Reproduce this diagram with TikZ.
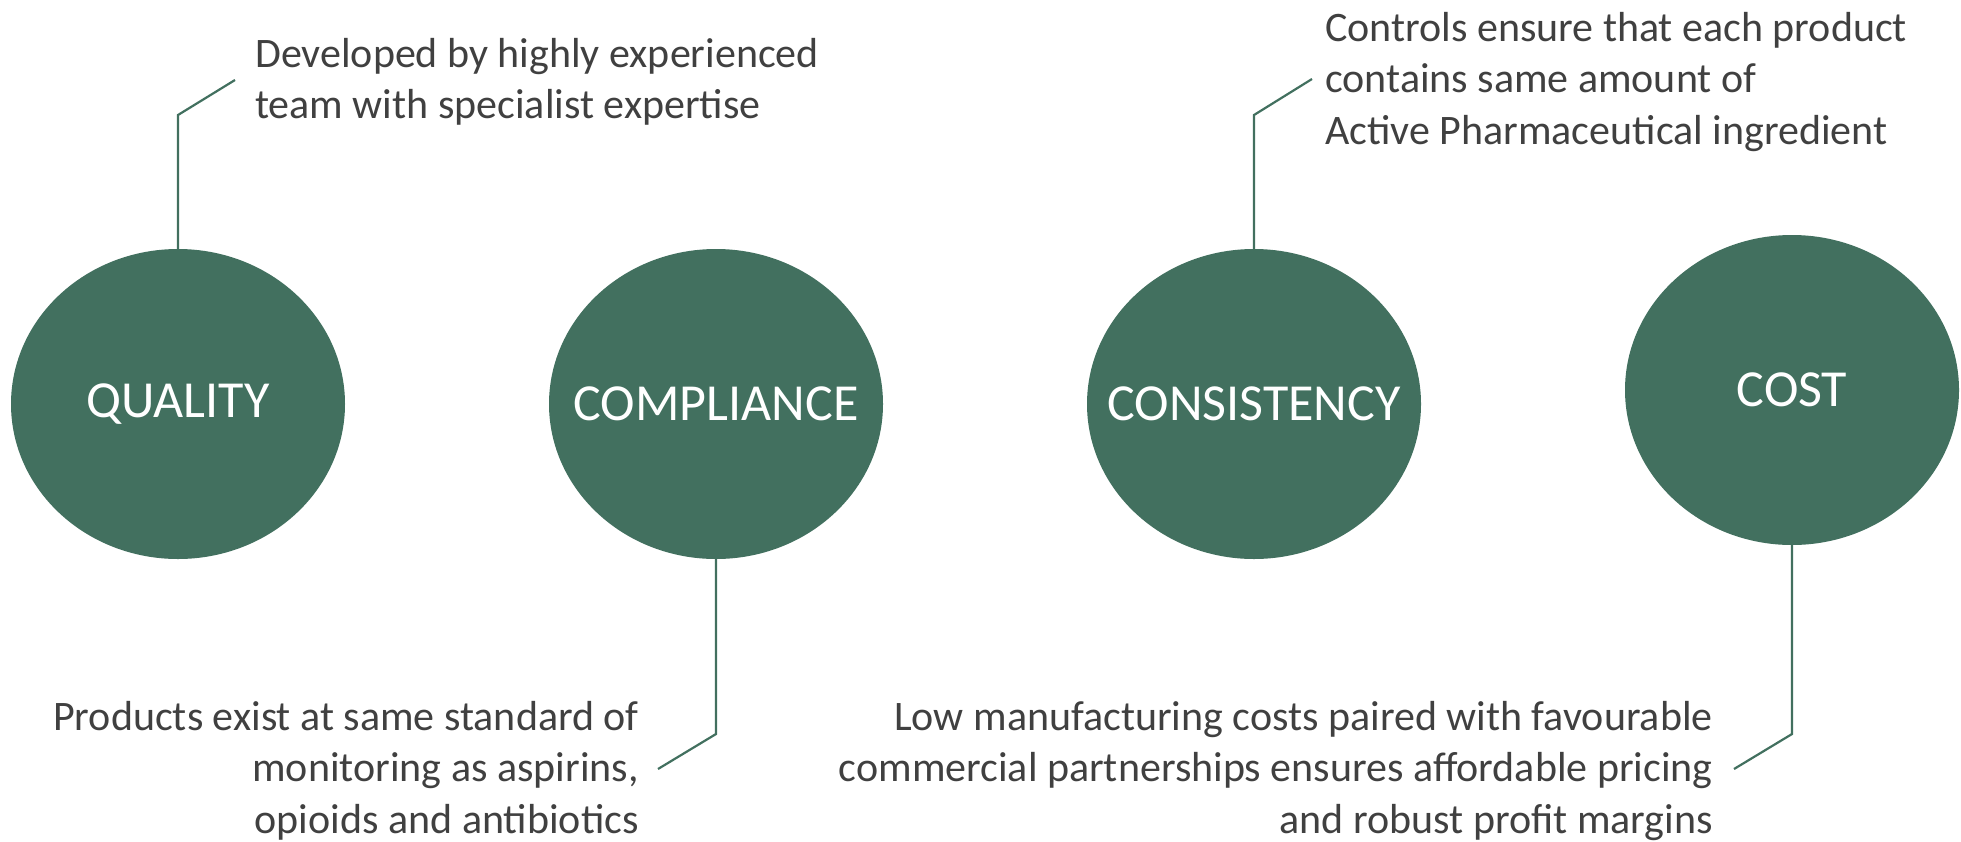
\documentclass[tikz,border=0pt]{standalone}
\usepackage{fontspec}
\setmainfont{Carlito}
\usetikzlibrary{shapes.geometric}
\definecolor{pgreen}{HTML}{42705F}
\definecolor{ptext}{HTML}{404040}
\tikzset{
  pillar/.style={ellipse, fill=pgreen, draw=none, inner sep=0pt,
    minimum width=334pt, minimum height=310pt,
    label={[text=white, font=\fontsize{52}{62}\selectfont]center:#1}},
  conn/.style={draw=pgreen, line width=2.2pt},
  note/.style={inner sep=0pt, text=ptext, font=\fontsize{42}{51.5}\selectfont},
}
\begin{document}
\begin{tikzpicture}[x=1pt,y=-1pt]
\useasboundingbox (0,0) rectangle (1961,841);
\node[pillar=QUALITY] (q) at (178,404) {};
\node[pillar=COMPLIANCE] (cp) at (716,404) {};
\node[pillar=CONSISTENCY] (cs) at (1254,404) {};
\node[pillar=COST] (ct) at (1792,390) {};

\coordinate (qb) at (178,115);
\coordinate (qa) at (235,80);
\coordinate (cpb) at (716,734);
\coordinate (cpa) at (658,769);
\coordinate (csb) at (1254,115);
\coordinate (csa) at (1312,79);
\coordinate (ctb) at (1792,734);
\coordinate (cta) at (1734,769);

\draw[conn] (q.north) -- (qb) -- (qa);
\draw[conn] (cp.south) -- (cpb) -- (cpa);
\draw[conn] (cs.north) -- (csb) -- (csa);
\draw[conn] (ct.south) -- (ctb) -- (cta);

\node[note, anchor=north west, align=left] (tq) at (255,38)
  {Developed by highly experienced\\team with specialist expertise};
\node[note, anchor=north west, align=left] (tcs) at (1325,12)
  {Controls ensure that each product\\contains same amount of\\Active Pharmaceutical ingredient};
\node[note, anchor=north east, align=right] (tcp) at (639,701)
  {Products exist at same standard of\\monitoring as aspirins,\\opioids and antibiotics};
\node[note, anchor=north east, align=right] (tct) at (1713,701)
  {Low manufacturing costs paired with favourable\\commercial partnerships ensures affordable pricing\\and robust profit margins};
\end{tikzpicture}
\end{document}
